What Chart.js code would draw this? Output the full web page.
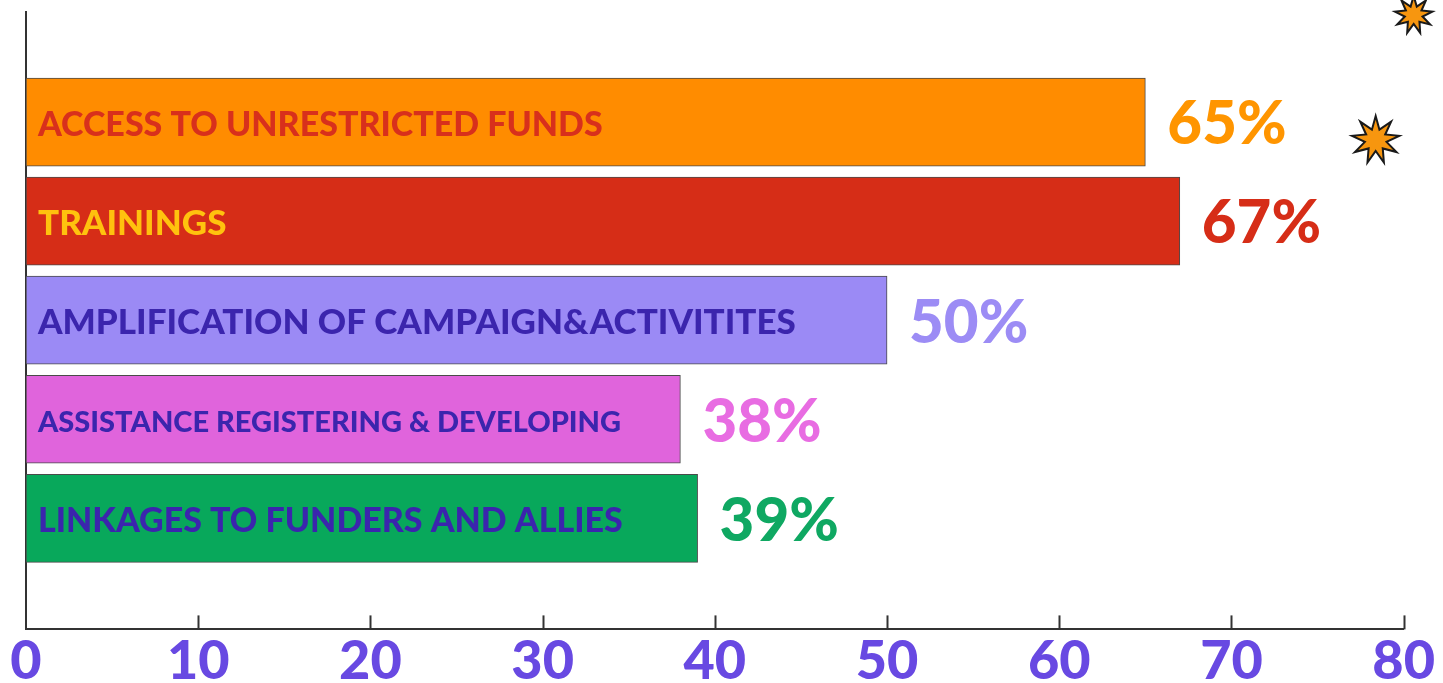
<!DOCTYPE html>
<html>
<head>
<meta charset="utf-8">
<script src="https://cdn.jsdelivr.net/npm/chart.js@4.4.1/dist/chart.umd.min.js"></script>
<style>
  html, body { margin: 0; padding: 0; background: #fff; }
  #wrap { width: 1443px; height: 683px; }
</style>
</head>
<body>
<div id="wrap"><canvas id="myChart"></canvas></div>
<script>
// chart data
const categories = [
  'ACCESS TO UNRESTRICTED FUNDS',
  'TRAININGS',
  'AMPLIFICATION OF CAMPAIGN&ACTIVITITES',
  'ASSISTANCE REGISTERING & DEVELOPING',
  'LINKAGES TO FUNDERS AND ALLIES'
];
const values = [65, 67, 50, 38, 39];
const xTicks = [0, 10, 20, 30, 40, 50, 60, 70, 80];

// colours / label styling
const barColors = ['#ff8c00', '#d62d17', '#9b8af5', '#e064dc', '#08a85b'];
const labelColors = ['#d8301c', '#ffc20e', '#3b25ad', '#3b25ad', '#3b25ad'];
const valueColors = ['#ff9500', '#d62d17', '#9c8cf5', '#e86ce2', '#0fa862'];
const labelSizes = [34, 35, 35, 29, 34];

const FONT = 'Lato, "Open Sans", sans-serif';

// labels inside the bars + percentage at the end
const barLabels = {
  id: 'barLabels',
  afterDatasetsDraw(chart) {
    const ctx = chart.ctx;
    const meta = chart.getDatasetMeta(0);
    const area = chart.chartArea;
    ctx.save();
    ctx.textBaseline = 'middle';
    meta.data.forEach((bar, i) => {
      ctx.font = '900 ' + labelSizes[i] + 'px ' + FONT;
      ctx.fillStyle = labelColors[i];
      ctx.textAlign = 'left';
      ctx.fillText(categories[i], area.left + 12, bar.y + 3);

      ctx.font = '900 60px ' + FONT;
      ctx.fillStyle = valueColors[i];
      ctx.fillText(values[i] + '%', bar.x + 22, bar.y + 3);
    });
    ctx.restore();
  }
};

// tick marks pointing up into the plot
const innerTicks = {
  id: 'innerTicks',
  afterDraw(chart) {
    const ctx = chart.ctx;
    const xs = chart.scales.x;
    const bottom = chart.chartArea.bottom;
    ctx.save();
    ctx.strokeStyle = '#333';
    ctx.lineWidth = 2;
    xTicks.forEach(v => {
      if (v === 0) return;
      const px = Math.round(xs.getPixelForValue(v)) + 0.5;
      ctx.beginPath();
      ctx.moveTo(px, bottom);
      ctx.lineTo(px, bottom - 14);
      ctx.stroke();
    });
    ctx.restore();
  }
};

// little starburst decorations top right
function drawStar(ctx, cx, cy, points, outer, inner) {
  ctx.beginPath();
  for (let k = 0; k < points * 2; k++) {
    const r = k % 2 === 0 ? outer : inner;
    const a = -Math.PI / 2 + k * Math.PI / points;
    const px = cx + r * Math.cos(a);
    const py = cy + r * Math.sin(a);
    if (k === 0) ctx.moveTo(px, py); else ctx.lineTo(px, py);
  }
  ctx.closePath();
  ctx.fillStyle = '#f7960f';
  ctx.fill();
  ctx.lineWidth = 2;
  ctx.strokeStyle = '#1a1a1a';
  ctx.stroke();
}
const stars = {
  id: 'stars',
  afterDraw(chart) {
    const a = chart.chartArea;
    const ctx = chart.ctx;
    ctx.save();
    drawStar(ctx, a.right + 10, a.top + 3, 9, 19, 9);
    drawStar(ctx, a.right - 28, a.top + 128, 9, 24, 11);
    ctx.restore();
  }
};

const ctx = document.getElementById('myChart').getContext('2d');

const myChart = new Chart(ctx, {
  type: 'bar',
  data: {
    datasets: [{
      data: values.map((v, i) => ({ x: v, y: i })),
      backgroundColor: barColors,
      borderColor: '#4a4a4a',
      borderWidth: 1,
      borderSkipped: false,
      barThickness: 88
    }]
  },
  options: {
    indexAxis: 'y',
    responsive: true,
    maintainAspectRatio: false,
    animation: false,
    layout: {
      padding: { top: 12, left: 26, right: 36, bottom: -11 }
    },
    scales: {
      x: {
        type: 'linear',
        min: 0,
        max: 80,
        afterBuildTicks: (scale) => {
          scale.ticks = xTicks.map(v => ({ value: v }));
        },
        grid: { display: false, drawTicks: false },
        border: { display: true, color: '#333', width: 2 },
        ticks: {
          padding: 8,
          color: '#6849e2',
          font: { family: FONT, size: 54, weight: '900', lineHeight: 0.9 },
          maxRotation: 0
        }
      },
      y: {
        type: 'linear',
        reverse: true,
        offset: false,
        min: -1.111,
        max: 5.121,
        grid: { display: false, drawTicks: false },
        border: { display: true, color: '#333', width: 2 },
        ticks: { display: false }
      }
    },
    plugins: {
      legend: { display: false },
      tooltip: { enabled: false }
    }
  },
  plugins: [barLabels, innerTicks, stars]
});
</script>
</body>
</html>
